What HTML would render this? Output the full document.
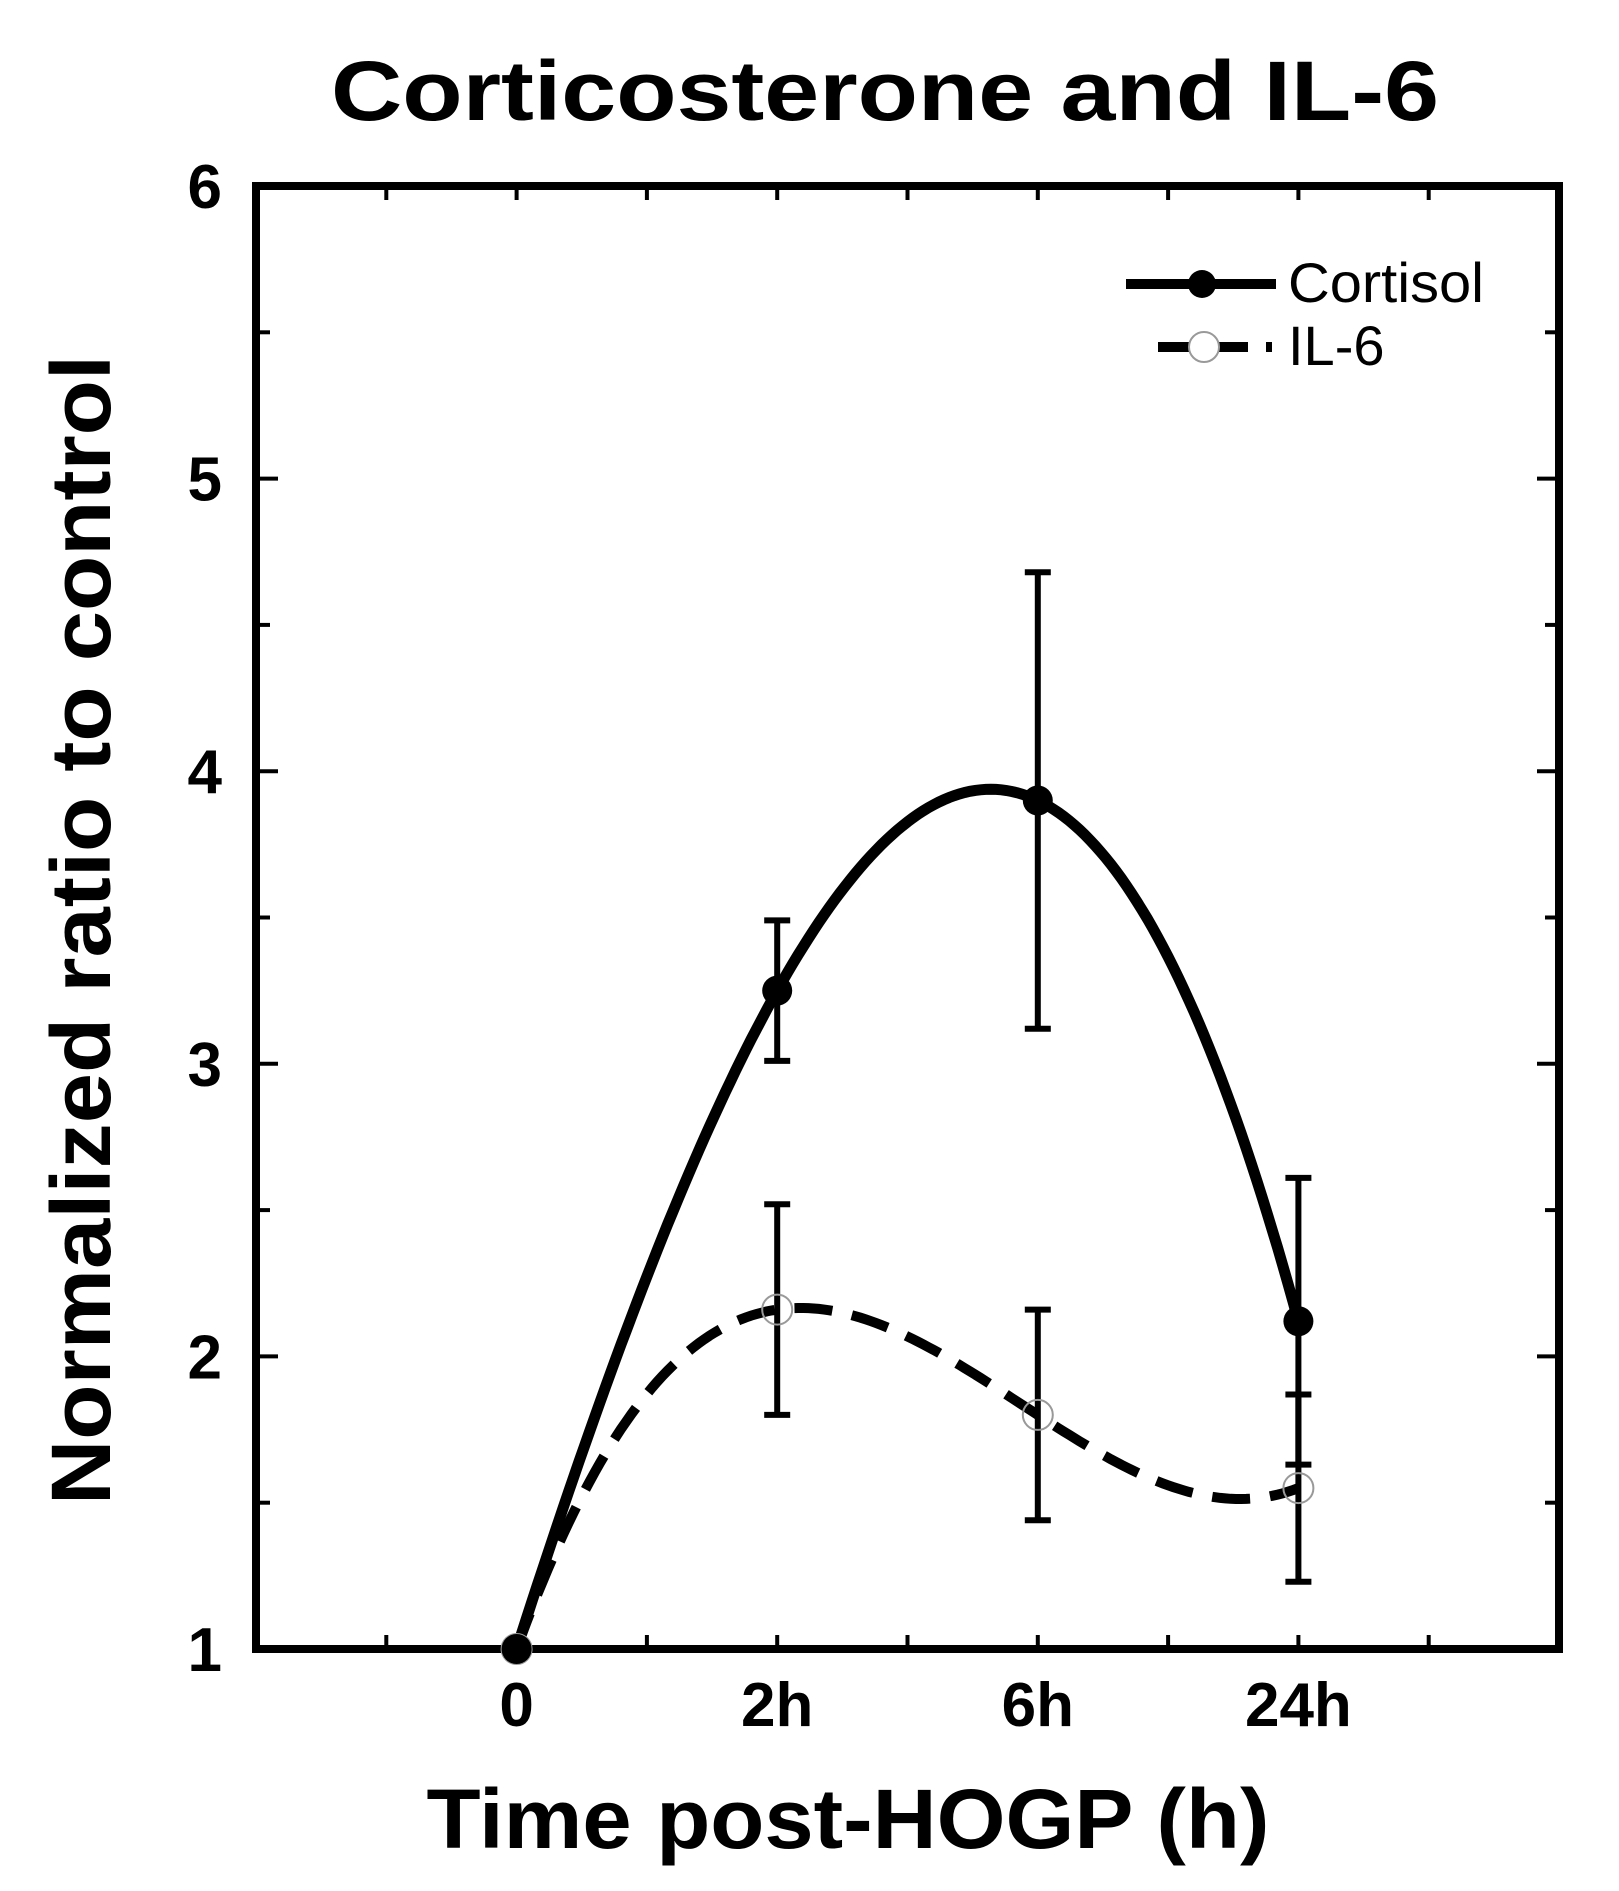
<!DOCTYPE html>
<html><head><meta charset="utf-8"><style>
body{margin:0;background:#fff;}
svg{display:block;font-family:"Liberation Sans",Arial,sans-serif;}
</style></head><body>
<svg id="chart" width="1619" height="1891" viewBox="0 0 1619 1891">
<text x="885" y="120" text-anchor="middle" font-size="84" font-weight="bold" textLength="1108" lengthAdjust="spacingAndGlyphs">Corticosterone and IL-6</text>
<text x="848" y="1848" text-anchor="middle" font-size="84" font-weight="bold" textLength="843" lengthAdjust="spacingAndGlyphs">Time post-HOGP (h)</text>
<text transform="translate(110,930) rotate(-90)" text-anchor="middle" font-size="84" font-weight="bold" textLength="1150" lengthAdjust="spacingAndGlyphs">Normalized ratio to control</text>
<g id="plot"></g>
<g>
<line x1="1126" y1="284" x2="1276" y2="284" stroke="#000" stroke-width="10"/>
<circle cx="1202" cy="284" r="14" fill="#000"/>
<text x="1288" y="302" font-size="56" textLength="196" lengthAdjust="spacingAndGlyphs">Cortisol</text>
<line x1="1158" y1="347" x2="1272" y2="347" stroke="#000" stroke-width="10" stroke-dasharray="36,18"/>
<circle cx="1204" cy="347" r="15" fill="#fff" stroke="#999" stroke-width="2"/>
<text x="1288" y="365" font-size="56">IL-6</text>
</g>
</svg>
<script>
const categories = ["0","2h","6h","24h"];
const cortisol = [1, 3.25, 3.9, 2.12];
const cortisolErr = [0, 0.24, 0.78, 0.49];
const il6 = [1, 2.16, 1.8, 1.55];
const il6Err = [0, 0.36, 0.36, 0.32];
const yTicks = [1,2,3,4,5,6];

const L=256,R=1559,T=186,B=1649;
const xMin=-1,xMax=4,yMin=1,yMax=6;
const X=v=>L+(v-xMin)/(xMax-xMin)*(R-L);
const Y=v=>B-(v-yMin)/(yMax-yMin)*(B-T);
const NS="http://www.w3.org/2000/svg";
const g=document.getElementById('plot');
function mk(t,a){const e=document.createElementNS(NS,t);for(const k in a)e.setAttribute(k,a[k]);g.appendChild(e);return e;}

let fr=mk('rect',{x:L,y:T,width:R-L,height:B-T,fill:'none',stroke:'#000','stroke-width':8});


for(let v=1;v<=6.001;v+=0.5){
  const len=(Math.abs(v-Math.round(v))<1e-6)?22:14;
  let t1=mk('line',{x1:L,x2:L+len,y1:Y(v),y2:Y(v),stroke:'#000','stroke-width':4});
  
  
  let t2=mk('line',{x1:R,x2:R-len,y1:Y(v),y2:Y(v),stroke:'#000','stroke-width':4});
  
  
}
yTicks.forEach(v=>{
  let t=mk('text',{x:222,y:Y(v)+22,'text-anchor':'end','font-size':62,'font-weight':'bold'});
  t.textContent=v;
  
  
});
for(let v=-0.5;v<4;v+=0.5){
  let t1=mk('line',{x1:X(v),x2:X(v),y1:B,y2:B-14,stroke:'#000','stroke-width':4});
  
  
  let t2=mk('line',{x1:X(v),x2:X(v),y1:T,y2:T+14,stroke:'#000','stroke-width':4});
  
  
}
categories.forEach((c,i)=>{
  let t=mk('text',{x:X(i),y:1726,'text-anchor':'middle','font-size':62,'font-weight':'bold'});
  t.textContent=c;
  
  
});
function curve(vals){
  const n=vals.length;let d='';
  for(let s=0;s<=150;s++){
    const x=s/150*(n-1);let y=0;
    for(let i=0;i<n;i++){let p=vals[i];for(let j=0;j<n;j++)if(j!==i)p*=(x-j)/(i-j);y+=p;}
    d+=(s?'L':'M')+X(x).toFixed(1)+','+Y(y).toFixed(1);
  }
  return d;
}
let c1=mk('path',{d:curve(cortisol),fill:'none',stroke:'#000','stroke-width':11});


let c2=mk('path',{d:curve(il6),fill:'none',stroke:'#000','stroke-width':10,'stroke-dasharray':'38,20'});


function errbars(vals,errs,name){
  vals.forEach((v,i)=>{
    if(!errs[i])return;
    const x=X(i),y1=Y(v-errs[i]),y2=Y(v+errs[i]);
    let e=mk('path',{d:`M${x},${y1}V${y2}M${x-13},${y1}H${x+13}M${x-13},${y2}H${x+13}`,stroke:'#000','stroke-width':6,fill:'none'});
    
    
  });
}
errbars(cortisol,cortisolErr,'cortisol');
errbars(il6,il6Err,'il6');
il6.forEach((v,i)=>{
  let m=mk('circle',{cx:X(i),cy:Y(v),r:15,fill:'none',stroke:'#999','stroke-width':2});
  
  
});
cortisol.forEach((v,i)=>{
  let m=mk('circle',{cx:X(i),cy:Y(v),r:15,fill:'#000'});
  
  
});
</script>
</body></html>
